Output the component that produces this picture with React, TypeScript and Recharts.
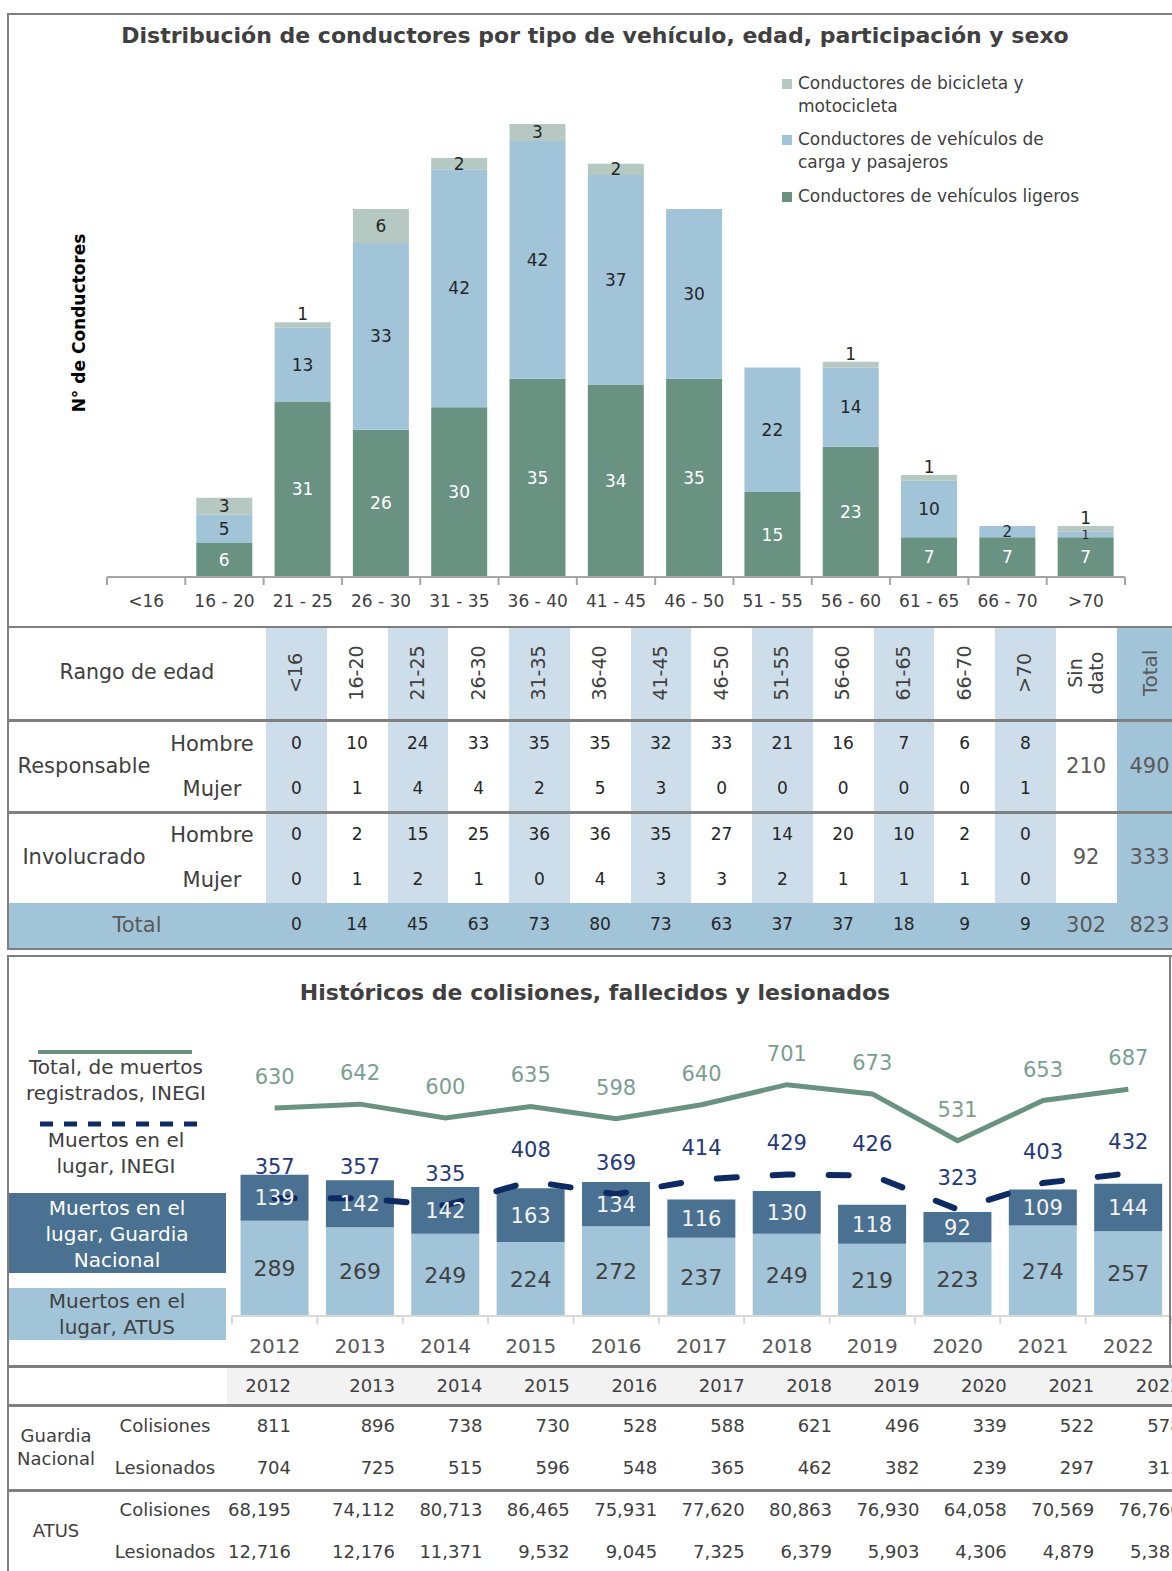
import React from "react"
import { Bar, BarChart, ComposedChart, LabelList, Line, XAxis, YAxis } from "recharts"

// ---- top chart data ----
const ageGroups = ["<16", "16 - 20", "21 - 25", "26 - 30", "31 - 35", "36 - 40", "41 - 45", "46 - 50", "51 - 55", "56 - 60", "61 - 65", "66 - 70", ">70"]
const ligeros = [0, 6, 31, 26, 30, 35, 34, 35, 15, 23, 7, 7, 7]
const cargaPasajeros = [0, 5, 13, 33, 42, 42, 37, 30, 22, 14, 10, 2, 1]
const biciMoto = [0, 3, 1, 6, 2, 3, 2, 0, 0, 1, 1, 0, 1]

// ---- age table ----
const tableAges = ["<16", "16-20", "21-25", "26-30", "31-35", "36-40", "41-45", "46-50", "51-55", "56-60", "61-65", "66-70", ">70"]
const respHombre = [0, 10, 24, 33, 35, 35, 32, 33, 21, 16, 7, 6, 8]
const respMujer = [0, 1, 4, 4, 2, 5, 3, 0, 0, 0, 0, 0, 1]
const invHombre = [0, 2, 15, 25, 36, 36, 35, 27, 14, 20, 10, 2, 0]
const invMujer = [0, 1, 2, 1, 0, 4, 3, 3, 2, 1, 1, 1, 0]
const ageTotals = [0, 14, 45, 63, 73, 80, 73, 63, 37, 37, 18, 9, 9]
const sinDato = [210, 92, 302]
const rowTotals = [490, 333, 823]

// ---- bottom chart data ----
const years = ["2012", "2013", "2014", "2015", "2016", "2017", "2018", "2019", "2020", "2021", "2022"]
const muertosAtus = [289, 269, 249, 224, 272, 237, 249, 219, 223, 274, 257]
const muertosGuardia = [139, 142, 142, 163, 134, 116, 130, 118, 92, 109, 144]
const totalInegi = [630, 642, 600, 635, 598, 640, 701, 673, 531, 653, 687]
const lugarInegi = [357, 357, 335, 408, 369, 414, 429, 426, 323, 403, 432]

// ---- bottom table ----
const gnColisiones = ["811", "896", "738", "730", "528", "588", "621", "496", "339", "522", "578"]
const gnLesionados = ["704", "725", "515", "596", "548", "365", "462", "382", "239", "297", "313"]
const atusColisiones = ["68,195", "74,112", "80,713", "86,465", "75,931", "77,620", "80,863", "76,930", "64,058", "70,569", "76,760"]
const atusLesionados = ["12,716", "12,176", "11,371", "9,532", "9,045", "7,325", "6,379", "5,903", "4,306", "4,879", "5,381"]

const FONT = "'DejaVu Sans', sans-serif"
const DARK_GREEN = "#6a9282"
const LIGHT_BLUE = "#a2c4d9"
const PALE_BLUE = "#cddeea"
const GREY_GREEN = "#b5c9c2"
const STEEL = "#4a7191"
const NAVY = "#0d2a62"
const BORDER = "#7f7f7f"
const TEXT = "#404040"

const topData = ageGroups.map((age, i) => ({ age, ligeros: ligeros[i], carga: cargaPasajeros[i], bici: biciMoto[i] }))
const bottomData = years.map((year, i) => ({ year, atus: muertosAtus[i], guardia: muertosGuardia[i], total: totalInegi[i], lugar: lugarInegi[i] }))

const TOP_W = 1172
const TOP_MARGIN = { top: 124, right: 47, bottom: 20, left: 107 }
const TOP_BAND = (TOP_W - TOP_MARGIN.left - TOP_MARGIN.right) / ageGroups.length
const BOT_MARGIN = { top: 97, right: 1, bottom: 19, left: 232 }
const BOT_BAND = (TOP_W - BOT_MARGIN.left - BOT_MARGIN.right) / years.length

const hideZero = (v: any) => (v === 0 ? "" : v)

// small top segments (value 1) get their label just above the segment, as in the original
const biciLabel = (props: any) => {
  const { x, y, width, height, value } = props
  if (!value) return null
  const cy = value === 1 ? y - 8 : y + height / 2
  return (
    <text x={x + width / 2} y={cy} textAnchor="middle" dominantBaseline="central" fontSize={17} fill="#262626" fontFamily={FONT}>
      {value}
    </text>
  )
}

const cargaLabel = (props: any) => {
  const { x, y, width, height, value } = props
  if (!value) return null
  return (
    <text x={x + width / 2} y={y + height / 2} textAnchor="middle" dominantBaseline="central" fontSize={value === 1 ? 12 : value === 2 ? 15 : 17} fill="#262626" fontFamily={FONT}>
      {value}
    </text>
  )
}

function Txt({ x, y, children, size = 18, color = TEXT, anchor = "middle", weight = 400, rotate = false, lh = 1.25 }: any) {
  const tx = anchor === "middle" ? "-50%" : anchor === "end" ? "-100%" : "0"
  return (
    <div
      style={{
        position: "absolute",
        left: x,
        top: y,
        transform: `translate(${tx},-50%)${rotate ? " rotate(-90deg)" : ""}`,
        fontSize: size,
        color,
        fontWeight: weight,
        whiteSpace: "pre",
        lineHeight: lh,
        textAlign: anchor === "middle" ? "center" : anchor === "end" ? "right" : "left",
      }}
    >
      {children}
    </div>
  )
}

function Rect({ x, y, w, h, c }: any) {
  return <div style={{ position: "absolute", left: x, top: y, width: w, height: h, background: c }} />
}

function makeTick(band: number, count: number, color: string, size: number, dy: number, textColor: string) {
  return (props: any) => {
    const { x, y, payload, index } = props
    const h = band / 2
    return (
      <g>
        <line x1={x - h} x2={x - h} y1={y} y2={y + 8} stroke={color} strokeWidth={2} />
        {index === count - 1 && <line x1={x + h} x2={x + h} y1={y} y2={y + 8} stroke={color} strokeWidth={2} />}
        <text x={x} y={y + dy} textAnchor="middle" dominantBaseline="central" fontSize={size} fill={textColor} fontFamily={FONT}>
          {payload.value}
        </text>
      </g>
    )
  }
}

const AgeTick = makeTick(TOP_BAND, ageGroups.length, "#a6a6a6", 17, 24, TEXT)
const YearTick = makeTick(BOT_BAND, years.length, "#d9d9d9", 20, 30, "#595959")

const legendItems = [
  { color: GREY_GREEN, text: "Conductores de bicicleta y\nmotocicleta", y: 84 },
  { color: LIGHT_BLUE, text: "Conductores de vehículos de\ncarga y pasajeros", y: 140 },
  { color: DARK_GREEN, text: "Conductores de vehículos ligeros", y: 197 },
]

export default function App() {
  const colX = (i: number) => 266 + i * 60.75
  const colW = 60.75
  const tableRows = [
    { vals: respHombre, y: 744 },
    { vals: respMujer, y: 789 },
    { vals: invHombre, y: 835 },
    { vals: invMujer, y: 880 },
    { vals: ageTotals, y: 925 },
  ]
  const yearRight = (i: number) => (i === 0 ? 291 : 395 + (i - 1) * 87.4)

  return (
    <div style={{ position: "fixed", left: 0, top: 0, width: 1172, height: 1571, overflow: "hidden", background: "#fff", fontFamily: FONT }}>
      {/* ---------- top chart ---------- */}
      <div style={{ position: "absolute", left: 0, top: 0 }}>
        <BarChart width={TOP_W} height={627} data={topData} margin={TOP_MARGIN} barCategoryGap="14%">
          <XAxis dataKey="age" interval={0} height={30} tickSize={0} tickMargin={0} tickLine={false} axisLine={{ stroke: "#a6a6a6", strokeWidth: 2 }} tick={AgeTick} />
          <YAxis hide domain={[0, 80]} />
          <Bar dataKey="ligeros" stackId="a" fill={DARK_GREEN} isAnimationActive={false}>
            <LabelList dataKey="ligeros" position="center" fill="#ffffff" fontSize={17} fontFamily={FONT} formatter={hideZero} />
          </Bar>
          <Bar dataKey="carga" stackId="a" fill={LIGHT_BLUE} isAnimationActive={false}>
            <LabelList dataKey="carga" content={cargaLabel} />
          </Bar>
          <Bar dataKey="bici" stackId="a" fill={GREY_GREEN} isAnimationActive={false}>
            <LabelList dataKey="bici" content={biciLabel} />
          </Bar>
        </BarChart>
      </div>
      <Txt x={595} y={36} size={22} weight={700}>Distribución de conductores por tipo de vehículo, edad, participación y sexo</Txt>
      <Txt x={80} y={323} size={17} weight={700} color="#000" rotate>N° de Conductores</Txt>
      {legendItems.map((l) => (
        <React.Fragment key={l.text}>
          <Rect x={782} y={l.y - 5} w={10} h={10} c={l.color} />
          <div style={{ position: "absolute", left: 798, top: l.y - 12, fontSize: 17, lineHeight: "23px", color: TEXT, whiteSpace: "pre" }}>{l.text}</div>
        </React.Fragment>
      ))}

      {/* ---------- age table ---------- */}
      {tableAges.map((a, i) => (i % 2 === 0 ? <Rect key={a} x={colX(i)} y={627} w={colW} h={276} c={PALE_BLUE} /> : null))}
      <Rect x={colX(14)} y={627} w={80} h={321} c={LIGHT_BLUE} />
      <Rect x={9} y={903} w={1163} h={45} c={LIGHT_BLUE} />
      <Rect x={7} y={626} w={1165} h={2} c={BORDER} />
      <Rect x={9} y={719} w={1163} h={3} c={BORDER} />
      <Rect x={9} y={811} w={1163} h={3} c={BORDER} />
      <Txt x={137} y={673} size={20.5}>Rango de edad</Txt>
      {tableAges.map((a, i) => (
        <Txt key={a} x={colX(i) + colW / 2} y={673} size={19} rotate>{a}</Txt>
      ))}
      <Txt x={colX(13) + colW / 2} y={673} size={19} rotate lh={1.1}>{"Sin\ndato"}</Txt>
      <Txt x={colX(14) + 33} y={673} size={20} rotate color="#595959">Total</Txt>
      <Txt x={84} y={766} size={21}>Responsable</Txt>
      <Txt x={84} y={857} size={21}>Involucrado</Txt>
      {[744, 835].map((y) => <Txt key={y} x={212} y={y} size={21}>Hombre</Txt>)}
      {[789, 880].map((y) => <Txt key={y} x={212} y={y} size={21}>Mujer</Txt>)}
      <Txt x={137} y={925} size={21} color="#595959">Total</Txt>
      {tableRows.map((r) =>
        r.vals.map((v, i) => (
          <Txt key={`${r.y}-${i}`} x={colX(i) + colW / 2} y={r.y} size={17} color="#262626">{v}</Txt>
        ))
      )}
      {[766, 857, 925].map((y, i) => (
        <React.Fragment key={y}>
          <Txt x={colX(13) + colW / 2} y={y} size={21} color="#595959">{sinDato[i]}</Txt>
          <Txt x={colX(14) + 33} y={y} size={21} color="#595959">{rowTotals[i]}</Txt>
        </React.Fragment>
      ))}

      {/* frame of first box */}
      <Rect x={7} y={13} w={1165} h={2} c={BORDER} />
      <Rect x={7} y={13} w={2} h={937} c={BORDER} />
      <Rect x={7} y={948} w={1165} h={2} c={BORDER} />

      {/* ---------- bottom chart ---------- */}
      <div style={{ position: "absolute", left: 0, top: 955 }}>
        <ComposedChart width={TOP_W} height={410} data={bottomData} margin={BOT_MARGIN} barCategoryGap="10%">
          <XAxis dataKey="year" interval={0} height={30} tickSize={0} tickMargin={0} tickLine={false} axisLine={{ stroke: "#d9d9d9", strokeWidth: 2 }} tick={YearTick} />
          <YAxis hide domain={[0, 800]} />
          <Bar dataKey="atus" stackId="m" fill={LIGHT_BLUE} isAnimationActive={false}>
            <LabelList dataKey="atus" position="center" fill={TEXT} fontSize={22} fontFamily={FONT} />
          </Bar>
          <Bar dataKey="guardia" stackId="m" fill={STEEL} isAnimationActive={false}>
            <LabelList dataKey="guardia" position="center" fill="#f2f2f2" fontSize={21} fontFamily={FONT} />
          </Bar>
          <Line dataKey="total" type="linear" stroke={DARK_GREEN} strokeWidth={5} dot={false} isAnimationActive={false}>
            <LabelList dataKey="total" position="top" offset={24} fill="#7a9e90" fontSize={21} fontFamily={FONT} />
          </Line>
          <Line dataKey="lugar" type="linear" stroke={NAVY} strokeWidth={6} strokeDasharray="20 36" strokeLinecap="round" dot={false} isAnimationActive={false}>
            <LabelList dataKey="lugar" position="top" offset={24} fill="#24387a" fontSize={21} fontFamily={FONT} />
          </Line>
        </ComposedChart>
      </div>
      <Txt x={595} y={993} size={22} weight={700}>Históricos de colisiones, fallecidos y lesionados</Txt>
      <Rect x={38} y={1050} w={154} h={4} c={DARK_GREEN} />
      <Txt x={116} y={1080} size={20} lh={1.3}>{"Total, de muertos\nregistrados, INEGI"}</Txt>
      <svg style={{ position: "absolute", left: 36, top: 1118 }} width={170} height={12}>
        <line x1={4} x2={166} y1={6} y2={6} stroke={NAVY} strokeWidth={5} strokeDasharray="13 11" />
      </svg>
      <Txt x={116} y={1153} size={20} lh={1.3}>{"Muertos en el\nlugar, INEGI"}</Txt>
      <Rect x={9} y={1193} w={217} h={80} c={STEEL} />
      <Txt x={117} y={1234} size={20} color="#ffffff" lh={1.3}>{"Muertos en el\nlugar, Guardia\nNacional"}</Txt>
      <Rect x={9} y={1288} w={217} h={52} c={LIGHT_BLUE} />
      <Txt x={117} y={1314} size={20} lh={1.3}>{"Muertos en el\nlugar, ATUS"}</Txt>

      {/* frame of second box */}
      <Rect x={7} y={955} w={1165} h={2} c={BORDER} />
      <Rect x={7} y={955} w={2} h={616} c={BORDER} />
      <Rect x={1169} y={955} w={2} h={412} c={BORDER} />

      {/* ---------- bottom table ---------- */}
      <Rect x={227} y={1368} w={945} h={37} c="#f2f2f2" />
      <Rect x={7} y={1365} w={1165} h={3} c={BORDER} />
      <Rect x={9} y={1404} w={1163} h={3} c={BORDER} />
      <Rect x={9} y={1489} w={1163} h={3} c={BORDER} />
      {years.map((yr, i) => <Txt key={yr} x={yearRight(i)} y={1386} size={18} anchor="end">{yr}</Txt>)}
      <Txt x={56} y={1447} size={18} lh={1.25}>{"Guardia\nNacional"}</Txt>
      <Txt x={56} y={1531} size={18}>ATUS</Txt>
      {[1426, 1510].map((y) => <Txt key={y} x={165} y={y} size={18}>Colisiones</Txt>)}
      {[1468, 1552].map((y) => <Txt key={y} x={165} y={y} size={18}>Lesionados</Txt>)}
      {[
        { vals: gnColisiones, y: 1426 },
        { vals: gnLesionados, y: 1468 },
        { vals: atusColisiones, y: 1510 },
        { vals: atusLesionados, y: 1552 },
      ].map((r) => r.vals.map((v, i) => <Txt key={`${r.y}-${i}`} x={yearRight(i)} y={r.y} size={18} anchor="end">{v}</Txt>))}
    </div>
  )
}
